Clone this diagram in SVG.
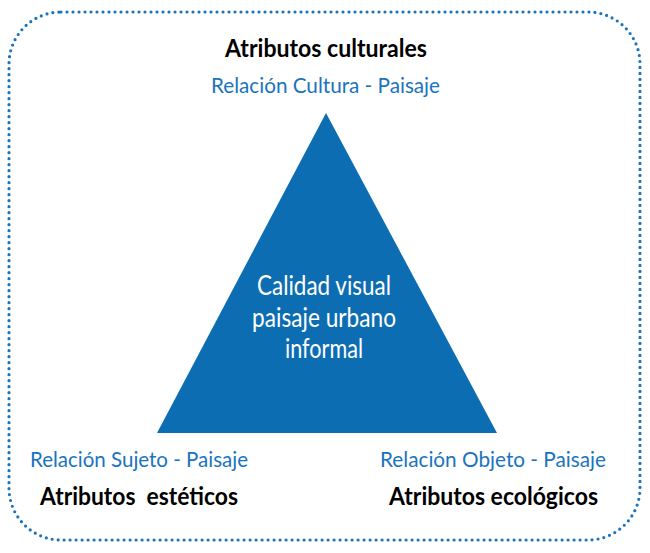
<svg xmlns="http://www.w3.org/2000/svg" width="650" height="553" viewBox="0 0 650 553">
<style>
.border{fill:none;stroke:#1a74bd;stroke-width:3.2;stroke-dasharray:0 6;stroke-linecap:round}
.tri{fill:#0d6db3}
.t{font-family:Lato,"Liberation Sans",sans-serif}
.blk{font-size:24px;font-weight:bold;fill:#000}
.blu{font-size:21px;fill:#1a74bd}
.wht{font-size:26px;fill:#fff;text-anchor:middle}
</style>
<rect class="border" x="9" y="12" width="631" height="528" rx="52" ry="52"/>
<g id="center">
<polygon class="tri" points="326,113 157,433 497,433"/>
<text class="t wht" x="324" y="295" textLength="134" lengthAdjust="spacingAndGlyphs">Calidad visual</text>
<text class="t wht" x="324" y="327" textLength="144" lengthAdjust="spacingAndGlyphs">paisaje urbano</text>
<text class="t wht" x="324" y="358" textLength="78" lengthAdjust="spacingAndGlyphs">informal</text>
</g>
<g id="culturales">
<text class="t blk" x="225" y="57" textLength="202" lengthAdjust="spacingAndGlyphs">Atributos culturales</text>
<text class="t blu" x="211" y="93" textLength="229" lengthAdjust="spacingAndGlyphs">Relación Cultura - Paisaje</text>
</g>
<g id="esteticos">
<text class="t blu" x="30" y="467" textLength="218" lengthAdjust="spacingAndGlyphs">Relación Sujeto - Paisaje</text>
<text class="t blk" x="40" y="505" textLength="198" lengthAdjust="spacingAndGlyphs" xml:space="preserve">Atributos  estéticos</text>
</g>
<g id="ecologicos">
<text class="t blu" x="380" y="467" textLength="226" lengthAdjust="spacingAndGlyphs">Relación Objeto - Paisaje</text>
<text class="t blk" x="389" y="505" textLength="209" lengthAdjust="spacingAndGlyphs">Atributos ecológicos</text>
</g>
<g id="connectors"></g>
</svg>
